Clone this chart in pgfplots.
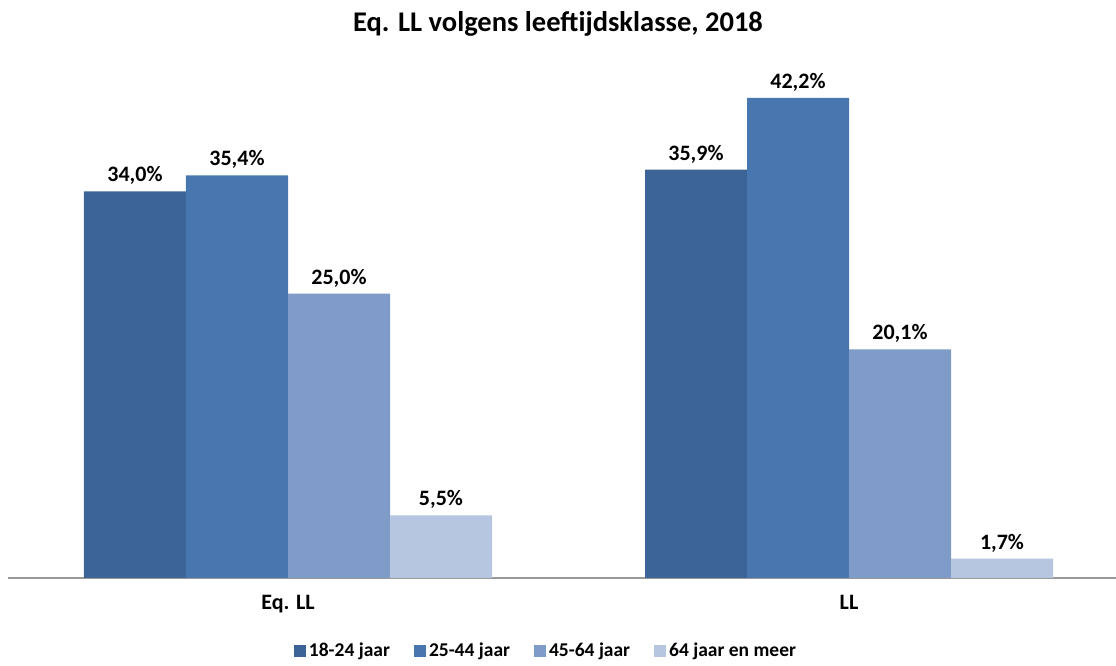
\documentclass[border=0pt]{standalone}
\usepackage{pgfplots}
\pgfplotsset{compat=1.18}
\usepackage{fontspec}
\setmainfont{Carlito}
\definecolor{cA}{HTML}{3C6496}
\definecolor{cB}{HTML}{4877AF}
\definecolor{cC}{HTML}{7F9CC8}
\definecolor{cD}{HTML}{B6C5E0}
\begin{document}
\begin{tikzpicture}[x=1pt,y=1pt]
\path[use as bounding box] (0,0) rectangle (1116,666);
\node[font=\fontsize{28.5}{32}\selectfont\bfseries] at (558,642) {Eq. LL volgens leeftijdsklasse, 2018};
\begin{axis}[
  at={(8pt,88pt)}, anchor=south west,
  scale only axis, width=1108pt, height=518pt,
  ybar=0pt, bar width=102pt,
  xmin=-0.4991, xmax=1.4759, ymin=0, ymax=45.54,
  axis x line*=bottom, axis y line=none,
  x axis line style={draw=gray!80, line width=1.2pt, -},
  xtick={0,1}, xticklabels={Eq. LL, LL}, major tick length=0pt,
  xticklabel style={font=\fontsize{22}{26}\selectfont\bfseries, yshift=-14pt},
  ytick=\empty,
  /pgf/number format/assume math mode=true,
  nodes near coords={\pgfmathprintnumber[fixed,fixed zerofill,precision=1,use comma,assume math mode=true]{\pgfplotspointmeta}\%},
  nodes near coords style={font=\fontsize{22}{26}\selectfont\bfseries, text=black, anchor=south, yshift=3pt},
  legend style={at={(0.486,-0.1400)}, anchor=center, draw=none, fill=none,
    legend columns=4, font=\fontsize{19.5}{23}\selectfont\bfseries,
    nodes={inner xsep=3pt, inner ysep=1pt},
    /tikz/every even column/.append style={column sep=21pt}},
  legend image code/.code={\fill[#1] (0pt,-6pt) rectangle (12pt,6pt);},
  clip=false,
]
\addplot[fill=cA, draw=none] coordinates {(0,34.0) (1,35.9)};
\addplot[fill=cB, draw=none] coordinates {(0,35.4) (1,42.2)};
\addplot[fill=cC, draw=none] coordinates {(0,25.0) (1,20.1)};
\addplot[fill=cD, draw=none] coordinates {(0,5.5) (1,1.7)};
\legend{18-24 jaar, 25-44 jaar, 45-64 jaar, 64 jaar en meer}
\end{axis}
\end{tikzpicture}
\end{document}
